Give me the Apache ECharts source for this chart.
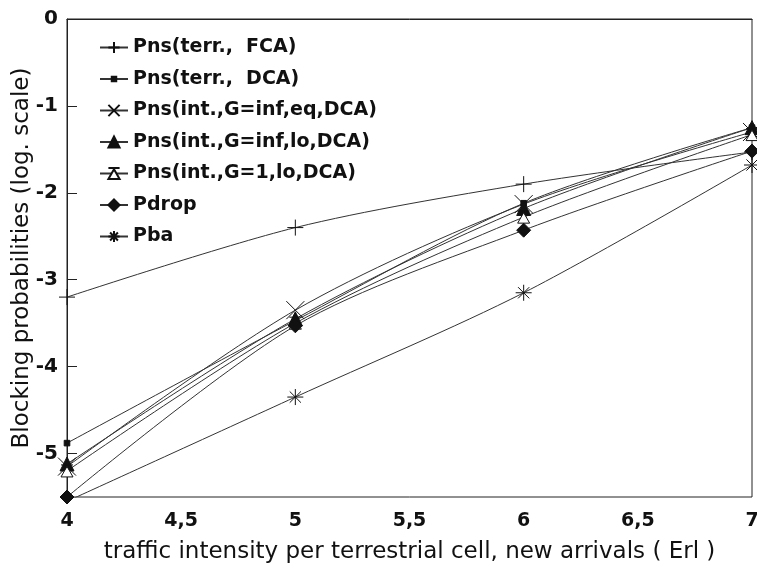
<!DOCTYPE html>
<html>
<head>
<meta charset="utf-8">
<script src="https://cdn.jsdelivr.net/npm/echarts@6/dist/echarts.min.js"></script>
<style>
  html, body { margin: 0; padding: 0; background: #fff; }
  #chart { width: 757px; height: 571px; }
</style>
</head>
<body>
<div id="chart"></div>
<script>
// traffic (Erl) on x, log10 blocking probability on y
var traffic = [4, 5, 6, 7];
var yTicks = [0, -1, -2, -3, -4, -5];

var terrFCA   = [-3.2, -2.4, -1.9, -1.53];
var terrDCA   = [-4.88, -3.47, -2.12, -1.25];
var intInfEq  = [-5.15, -3.35, -2.13, -1.3];
var intInfLo  = [-5.12, -3.45, -2.18, -1.25];
var intG1Lo   = [-5.2, -3.5, -2.28, -1.33];
var pdrop     = [-5.5, -3.53, -2.43, -1.52];
var pba       = [-5.55, -4.35, -3.15, -1.68];

var names = [
  'Pns(terr.,  FCA)',
  'Pns(terr.,  DCA)',
  'Pns(int.,G=inf,eq,DCA)',
  'Pns(int.,G=inf,lo,DCA)',
  'Pns(int.,G=1,lo,DCA)',
  'Pdrop',
  'Pba'
];

var FONT = 'DejaVu Sans, Liberation Sans, sans-serif';

var plusPath  = 'path://M0,5L10,5M5,0L5,10';
var crossPath = 'path://M0,2L10,8M0,8L10,2';
var starPath  = 'path://M0,5L10,5M5,0L5,10M1.5,1.5L8.5,8.5M1.5,8.5L8.5,1.5';
var hourPath  = 'path://M1,1L9,1M5,2L1,9L9,9Z';
// small square padded inside a 10x10 box so it stays small in the legend too
var dotPath   = 'path://M0,0M10,10M3,3L7,3L7,7L3,7Z';

function pairs(vals) {
  return traffic.map(function (x, i) { return [x, vals[i]]; });
}

function mk(name, vals, symbol, size, fill) {
  return {
    name: name,
    type: 'line',
    smooth: 0.3,
    data: pairs(vals),
    symbol: symbol,
    symbolSize: size,
    showSymbol: true,
    lineStyle: { color: '#333', width: 1 },
    itemStyle: { color: fill, borderColor: '#111', borderWidth: 1 },
    emphasis: { disabled: true }
  };
}

var chart = echarts.init(document.getElementById('chart'), null, { renderer: 'canvas' });

chart.setOption({
  animation: false,
  backgroundColor: '#fff',
  grid: {
    left: 67, right: 5, top: 19, bottom: 74,
    outerBoundsMode: 'none',
    show: true, borderColor: '#222', borderWidth: 1
  },
  legend: {
    orient: 'vertical',
    left: 94,
    top: 33,
    itemWidth: 28,
    itemHeight: 14,
    itemGap: 12.5,
    data: names,
    textStyle: { fontFamily: FONT, fontSize: 19, fontWeight: 'bold', color: '#111' }
  },
  xAxis: {
    type: 'value',
    min: 4,
    max: 7,
    interval: 0.5,
    name: 'traffic intensity per terrestrial cell, new arrivals ( Erl )',
    nameLocation: 'middle',
    nameGap: 44,
    nameTextStyle: { fontFamily: FONT, fontSize: 23, color: '#111' },
    axisLine: { lineStyle: { color: '#222' } },
    axisTick: { show: false },
    splitLine: { show: false },
    axisLabel: {
      margin: 15,
      fontFamily: FONT,
      fontSize: 19,
      fontWeight: 'bold',
      color: '#111',
      formatter: function (v) { return String(v).replace('.', ','); }
    }
  },
  yAxis: {
    type: 'value',
    min: -5.5,
    max: 0,
    interval: 0.5,
    name: 'Blocking probabilities (log. scale)',
    nameLocation: 'middle',
    nameGap: 33,
    nameMoveOverlap: false,
    nameTextStyle: { fontFamily: FONT, fontSize: 23, color: '#111' },
    axisLine: { lineStyle: { color: '#222' } },
    axisTick: { show: true, inside: true, length: 10, customValues: yTicks, lineStyle: { color: '#222' } },
    splitLine: { show: false },
    axisLabel: {
      customValues: yTicks,
      margin: 9,
      fontFamily: FONT,
      fontSize: 20,
      fontWeight: 'bold',
      color: '#111'
    }
  },
  series: [
    mk(names[0], terrFCA, plusPath, 16, 'none'),
    mk(names[1], terrDCA, dotPath, 14, '#111'),
    mk(names[2], intInfEq, crossPath, 18, 'none'),
    mk(names[3], intInfLo, 'triangle', 14, '#111'),
    mk(names[4], intG1Lo, hourPath, 12, '#fff'),
    mk(names[5], pdrop, 'diamond', 14, '#111'),
    mk(names[6], pba, starPath, 16, 'none')
  ]
});
</script>
</body>
</html>
